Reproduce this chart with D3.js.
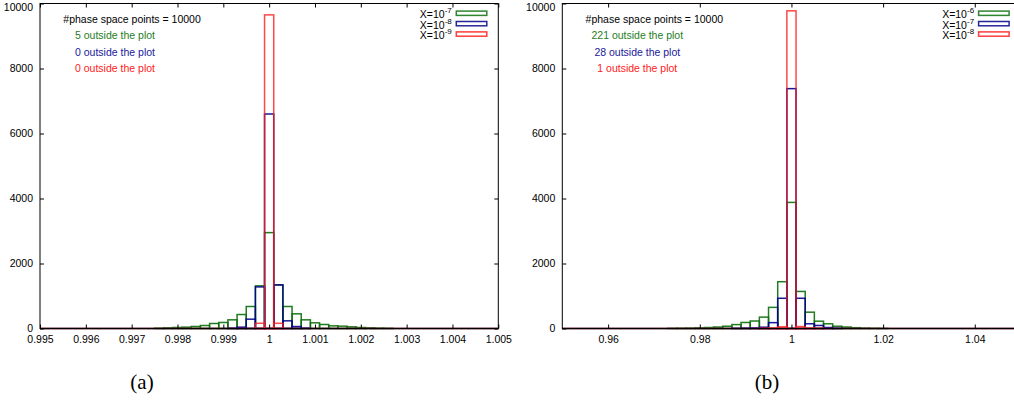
<!DOCTYPE html>
<html>
<head>
<meta charset="utf-8">
<script src="https://cdn.jsdelivr.net/npm/d3@7"></script>
<style>
  body { margin: 0; background: #fff; overflow: hidden; }
  svg { display: block; font-family: "Liberation Sans", Arial, sans-serif; }
  .tick text { font-size: 10.5px; fill: #000; }
</style>
</head>
<body>
<div id="chart"></div>
<script>
// panel (a): bins of width 0.0002
const centersA = [0.9976, 0.9978, 0.998, 0.9982, 0.9984, 0.9986, 0.9988, 0.999, 0.9992, 0.9994, 0.9996, 0.9998, 1.0,
                  1.0002, 1.0004, 1.0006, 1.0008, 1.001, 1.0012, 1.0014, 1.0016, 1.0018, 1.002, 1.0022, 1.0024, 1.0026];
const greenA = [10, 20, 31, 41, 62, 92, 154, 185, 267, 430, 677, 1313, 2950,
                1343, 677, 451, 267, 175, 123, 82, 72, 51, 31, 20, 10, 5];
const blueA  = [0, 0, 0, 0, 0, 0, 0, 0, 10, 41, 287, 1280, 6600,
                1340, 236, 60, 10, 0, 0, 0, 0, 0, 0, 0, 0, 0];
const redA   = [0, 0, 0, 0, 0, 0, 0, 0, 0, 0, 0, 160, 9650,
                160, 0, 0, 0, 0, 0, 0, 0, 0, 0, 0, 0, 0];
const ticksA = [0.995, 0.996, 0.997, 0.998, 0.999, 1, 1.001, 1.002, 1.003, 1.004, 1.005];
const legendA = ["-7", "-8", "-9"];
const outsideA = ["5 outside the plot", "0 outside the plot", "0 outside the plot"];

// panel (b): bins of width 0.002
const centersB = [0.974, 0.976, 0.978, 0.98, 0.982, 0.984, 0.986, 0.988, 0.99, 0.992, 0.994, 0.996, 0.998, 1.0,
                  1.002, 1.004, 1.006, 1.008, 1.01, 1.012, 1.014, 1.016, 1.018, 1.02];
const greenB = [5, 8, 12, 20, 30, 45, 70, 120, 185, 230, 350, 650, 1440, 3880,
                1140, 502, 225, 145, 70, 45, 25, 12, 6, 3];
const blueB  = [0, 0, 0, 0, 0, 0, 0, 5, 10, 15, 40, 180, 930, 7380,
                930, 145, 93, 30, 10, 0, 0, 0, 0, 0];
const redB   = [0, 0, 0, 0, 0, 0, 0, 0, 0, 0, 5, 12, 52, 9775,
                60, 12, 5, 0, 0, 0, 0, 0, 0, 0];
const ticksB = [0.96, 0.98, 1, 1.02, 1.04];
const legendB = ["-6", "-7", "-8"];
const outsideB = ["221 outside the plot", "28 outside the plot", "1 outside the plot"];

const yTicks = [0, 2000, 4000, 6000, 8000, 10000];
const colors = ["#0a6e0a", "#00008b", "#ff1a1a"];
const textColors = ["#1e7e1e", "#20209a", "#ff2020"];

const W = 1014, H = 401;
const svg = d3.select("#chart").append("svg")
    .attr("width", W)
    .attr("height", H);

function drawPanel(p) {
    const left = p.left, right = p.left + 458.3, top = 3.5, bottom = 328.5;

    const x = d3.scaleLinear().domain(p.domain).range([left, right]);
    const y = d3.scaleLinear().domain([0, 10000]).range([bottom, top]);

    const g = svg.append("g");

    // histograms, unfilled boxes (empty bins leave a line on the baseline)
    const series = [p.green, p.blue, p.red];
    series.forEach((vals, si) => {
        g.append("line")
            .attr("x1", left)
            .attr("x2", right)
            .attr("y1", y(0))
            .attr("y2", y(0))
            .attr("stroke", colors[si])
            .attr("stroke-opacity", 0.8)
            .attr("stroke-width", 1.5);

        const rows = p.centers.map((c, i) => ({c: c, v: vals[i]})).filter(d => d.v > 0);
        g.append("g").selectAll("rect")
            .data(rows)
            .join("rect")
            .attr("x", d => x(d.c - p.binW / 2))
            .attr("y", d => y(d.v))
            .attr("width", d => x(d.c + p.binW / 2) - x(d.c - p.binW / 2))
            .attr("height", d => y(0) - y(d.v))
            .attr("fill", "none")
            .attr("stroke", colors[si])
            .attr("stroke-opacity", si == 2 ? 0.8 : 0.9)
            .attr("stroke-width", 1.5);
    });

    // axes, ticks pointing inward
    g.append("g")
        .attr("transform", `translate(0,${bottom})`)
        .call(d3.axisBottom(x).tickValues(p.ticks).tickFormat(d3.format("")).tickSize(-4).tickSizeOuter(0).tickPadding(7));
    g.append("g")
        .attr("transform", `translate(0,${top})`)
        .call(d3.axisTop(x).tickValues(p.ticks).tickFormat("").tickSize(-4).tickSizeOuter(0));
    const ya = g.append("g")
        .attr("transform", `translate(${left},0)`)
        .call(d3.axisLeft(y).tickValues(yTicks).tickFormat(d3.format("d")).tickSize(-4).tickSizeOuter(0).tickPadding(7));
    // keep the top label inside the picture
    ya.selectAll(".tick text").filter(d => d == 10000).attr("dy", "0.62em");
    g.append("g")
        .attr("transform", `translate(${right},0)`)
        .call(d3.axisRight(y).tickValues(yTicks).tickFormat("").tickSize(-4).tickSizeOuter(0));
    g.selectAll(".domain").remove();
    g.selectAll(".tick line").attr("stroke", "#000");

    // border
    g.append("rect")
        .attr("x", left)
        .attr("y", top)
        .attr("width", right - left)
        .attr("height", bottom - top)
        .attr("fill", "none")
        .attr("stroke", "#000")
        .attr("stroke-width", 1);

    // labels
    g.append("text")
        .attr("x", left + 23.3)
        .attr("y", 22.7)
        .attr("font-size", "10.5px")
        .text("#phase space points = 10000");

    p.outside.forEach((t, i) => {
        g.append("text")
            .attr("x", left + 75)
            .attr("y", 39.3 + i * 16.4)
            .attr("text-anchor", "middle")
            .attr("font-size", "10.5px")
            .attr("fill", textColors[i])
            .text(t);
    });

    // legend
    p.legend.forEach((e, i) => {
        const base = 18.3 + i * 10.4;
        const t = g.append("text")
            .attr("x", right - 46.5)
            .attr("y", base)
            .attr("text-anchor", "end")
            .attr("font-size", "10.5px");
        t.append("tspan").text("X=10");
        t.append("tspan").attr("dy", -5).attr("font-size", "8px").text(e);

        g.append("rect")
            .attr("x", right - 42)
            .attr("y", base - 7.2)
            .attr("width", 30.5)
            .attr("height", 4.3)
            .attr("fill", "none")
            .attr("stroke", colors[i])
            .attr("stroke-opacity", 0.85)
            .attr("stroke-width", 1.5);
    });

    // caption
    svg.append("text")
        .attr("x", p.caption[1])
        .attr("y", 389)
        .attr("text-anchor", "middle")
        .attr("font-family", "'Liberation Serif', 'Times New Roman', serif")
        .attr("font-size", "21px")
        .text(p.caption[0]);
}

drawPanel({
    left: 40, domain: [0.995, 1.005], binW: 0.0002,
    centers: centersA, green: greenA, blue: blueA, red: redA,
    ticks: ticksA, legend: legendA, outside: outsideA, caption: ["(a)", 142]
});

drawPanel({
    left: 562.3, domain: [0.95, 1.05], binW: 0.002,
    centers: centersB, green: greenB, blue: blueB, red: redB,
    ticks: ticksB, legend: legendB, outside: outsideB, caption: ["(b)", 767]
});
</script>
</body>
</html>
